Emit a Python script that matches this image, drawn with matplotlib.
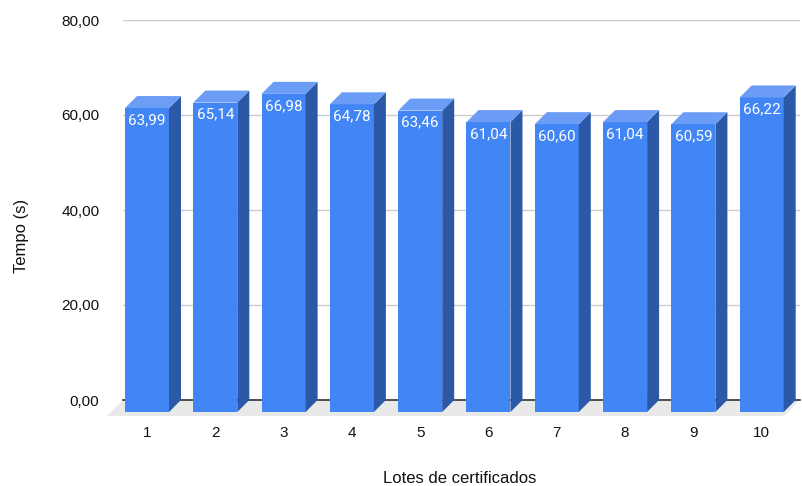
import numpy as np
import matplotlib.pyplot as plt
from matplotlib.patches import Polygon

# dados do grafico
lotes = ['1', '2', '3', '4', '5', '6', '7', '8', '9', '10']
tempos = [63.99, 65.14, 66.98, 64.78, 63.46, 61.04, 60.60, 61.04, 60.59, 66.22]
rotulos = ['63,99', '65,14', '66,98', '64,78', '63,46', '61,04', '60,60', '61,04', '60,59', '66,22']
yticks = [0, 20, 40, 60, 80]
ytick_labels = ['0,00', '20,00', '40,00', '60,00', '80,00']

# cores estilo planilha
cor_frente = '#4285f4'
cor_lado = '#2c58a8'
cor_topo = '#6b9cf6'
cor_chao = '#e9e9e9'

fig = plt.figure(figsize=(8.03, 4.86), dpi=100)
W, H = 803, 486
ax = fig.add_axes([123 / W, 86 / H, 677 / W, 380 / H])

passo = 68.3  # px por categoria
px_y = 380 / 80  # px por unidade
x0 = -(159 - 123) / passo
x1 = x0 + 677 / passo
ax.set_xlim(x0, x1)
ax.set_ylim(0, 80)

# profundidade do efeito 3D (em unidades de dados)
dx = 12 / passo
dy = 12 / px_y
larg = 44 / passo

# chao
fx = 16 / passo
fy = 16 / px_y
chao = Polygon([(x0, 0), (x1, 0), (x1 - fx, -fy), (x0 - fx, -fy)],
               closed=True, facecolor=cor_chao, edgecolor='none', zorder=1, clip_on=False)
ax.add_patch(chao)
ax.axhline(0, color='#333333', lw=1.2, zorder=1.5, clip_on=False)

x = np.arange(len(lotes))
for i, v in enumerate(tempos):
    xl = x[i] - dx - larg / 2
    xr = x[i] - dx + larg / 2
    frente = Polygon([(xl, -dy), (xr, -dy), (xr, v - dy), (xl, v - dy)],
                     facecolor=cor_frente, edgecolor='none', zorder=3, clip_on=False)
    lado = Polygon([(xr, -dy), (xr + dx, 0), (xr + dx, v), (xr, v - dy)],
                   facecolor=cor_lado, edgecolor='none', zorder=3, clip_on=False)
    topo = Polygon([(xl, v - dy), (xr, v - dy), (xr + dx, v), (xl + dx, v)],
                   facecolor=cor_topo, edgecolor='none', zorder=3, clip_on=False)
    for p in (frente, lado, topo):
        ax.add_patch(p)
    ax.text(x[i] - dx, v - dy - 12 / px_y, rotulos[i], color='white', ha='center', va='center',
            fontsize=11, family='Roboto', zorder=4)

ax.set_yticks(yticks, ytick_labels)
ax.set_xticks(x - dx, lotes)
ax.yaxis.grid(True, color='#cccccc', lw=1, zorder=0)
ax.set_axisbelow(True)
ax.tick_params(axis='y', length=0, pad=17, labelsize=11)
ax.tick_params(axis='x', length=0, pad=19, labelsize=11)
for lbl in ax.get_xticklabels() + ax.get_yticklabels():
    lbl.set_family('Liberation Sans')
    lbl.set_color('#111111')
for s in ax.spines.values():
    s.set_visible(False)

fig.text(22 / W, 1 - 236 / H, 'Tempo (s)', rotation=90, ha='center', va='center',
         fontsize=12, family='Liberation Sans', color='#111111')
fig.text(460 / W, 1 - 478 / H, 'Lotes de certificados', ha='center', va='center',
         fontsize=12, family='Liberation Sans', color='#111111')

fig.savefig('out.png', dpi=100)
